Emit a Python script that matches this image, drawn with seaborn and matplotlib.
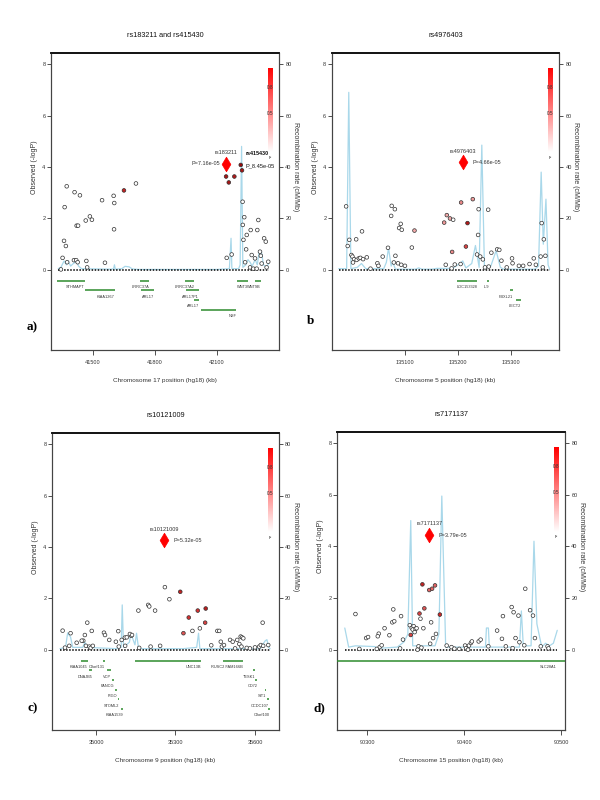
import numpy as np
import pandas as pd
import matplotlib
matplotlib.use("Agg")
import matplotlib.pyplot as plt
import seaborn as sns
from matplotlib.colors import LinearSegmentedColormap

# ================= DATA =================
# ---- Panel a ----
a_title = "rs183211 and rs415430"
a_xlabel = "Chromosome 17 position (hg18) (kb)"
a_xticks = [41500, 41800, 42100]
a_snp_pos = [41345, 41353, 41360, 41363, 41369, 41373, 41375, 41408, 41411, 41421, 41419, 41426,
             41428, 41437, 41465, 41468, 41472, 41485, 41495, 41544, 41558, 41600, 41603, 41602,
             41650, 41708, 42144, 42157, 42184, 42221, 42215, 42147, 42171, 42224, 42225, 42228,
             42232, 42236, 42244, 42241, 42263, 42268, 42284, 42295, 42300, 42308, 42328, 42336,
             42348, 42260, 42276, 42292, 42316, 42340, 42312]
a_snp_logp = [0.02, 0.47, 1.13, 2.44, 0.93, 3.25, 0.30, 0.38, 3.02, 1.72, 0.38, 0.30,
              1.72, 2.90, 1.92, 0.35, 0.10, 2.08, 1.95, 2.71, 0.28, 2.88, 2.60, 1.58,
              3.09, 3.36, 3.63, 3.40, 3.63, 3.87, 4.08, 0.47, 0.60, 2.65, 1.75, 1.17,
              2.05, 0.30, 1.36, 0.80, 1.55, 0.58, 0.45, 1.55, 1.94, 0.71, 1.23, 1.10,
              0.32, 0.10, 0.05, 0.05, 0.25, 0.10, 0.55]
a_snp_r2 = [0, 0, 0, 0, 0, 0, 0, 0, 0, 0, 0, 0,
            0, 0, 0, 0, 0, 0, 0, 0, 0, 0, 0, 0,
            0.75, 0, 0.9, 0.9, 0.85, 0.9, 1.0, 0, 0, 0, 0, 0,
            0, 0, 0, 0, 0, 0, 0, 0, 0, 0, 0, 0,
            0, 0, 0, 0, 0, 0, 0]
a_lead_pos = [42146]
a_lead_logp = [4.13]
a_lead_name = ["rs183211"]
a_lead_pval = ["P=7.16e-05"]
a_second_pos = [42215]
a_second_logp = [4.08]
a_second_name = ["rs415430"]
a_second_pval = ["P_8.45e-05"]
a_recomb_pos = [41332, 41345, 41360, 41372, 41380, 41392, 41405, 41421, 41430, 41445, 41590, 41600,
                41604, 41608, 41640, 41655, 41675, 41690, 41720, 42100, 42160, 42168, 42172, 42205,
                42212, 42219, 42225, 42240, 42250, 42260, 42270, 42285, 42295, 42305, 42315, 42325,
                42340, 42350]
a_recomb_rate = [0.5, 1, 3.5, 2, 3.5, 1.5, 2.5, 3.3, 1.5, 0.5, 0.3, 0.5,
                 2, 0.3, 0.5, 1.4, 1.2, 0.4, 0.2, 0.2, 0.5, 12.3, 0.5, 0.5,
                 2, 48, 1, 2, 4, 3, 1.5, 4, 2, 7.5, 7, 2,
                 1, 2.5]
a_gene_names = ["STHMAPT", "KIAA1267", "LRRC37A", "ARL17", "LRRC37A2", "ARL17P1", "ARL17", "NSF", "WNT3", "WNT9B"]
a_gene_start = [41326, 41461, 41727, 41732, 41945, 41950, 41989, 42023, 42197, 42284]
a_gene_end = [41461, 41606, 41771, 41795, 41989, 42013, 42013, 42192, 42250, 42313]
a_gene_row = [1, 2, 1, 2, 1, 2, 3, 4, 1, 1]

# ---- Panel b ----
b_title = "rs4976403"
b_xlabel = "Chromosome 5 position (hg18) (kb)"
b_xticks = [135100, 135200, 135300]
b_snp_pos = [134989, 134995, 134992, 134999, 135001, 135004, 135009, 135013, 135016, 135002, 135021, 135028,
             135008, 135019, 135035, 135048, 135050, 135058, 135068, 135075, 135081, 135074, 135092, 135089,
             135094, 135082, 135079, 135087, 135093, 135100, 135113, 135118, 135174, 135179, 135185, 135191,
             135189, 135206, 135218, 135215, 135228, 135239, 135257, 135238, 135236, 135242, 135247, 135263,
             135274, 135278, 135282, 135302, 135303, 135343, 135356, 135358, 135362, 135365, 135335, 135315,
             135323, 135292, 135194, 135205, 135177, 135188, 135251, 135258, 135347, 135360]
b_snp_logp = [2.47, 1.17, 0.93, 0.58, 0.52, 0.42, 0.39, 0.45, 0.47, 0.29, 0.42, 0.49,
              1.19, 1.50, 0.05, 0.26, 0.16, 0.52, 0.86, 2.49, 2.36, 2.10, 1.79, 1.63,
              1.56, 0.55, 0.29, 0.26, 0.20, 0.16, 0.87, 1.53, 1.84, 2.13, 2.00, 1.95,
              0.70, 2.62, 1.82, 0.91, 2.75, 2.36, 2.34, 1.36, 0.60, 0.52, 0.41, 0.67,
              0.80, 0.78, 0.36, 0.45, 0.26, 0.45, 0.52, 1.82, 1.19, 0.55, 0.23, 0.16,
              0.16, 0.10, 0.21, 0.23, 0.20, 0.06, 0.10, 0.13, 0.20, 0.10]
b_snp_r2 = [0, 0, 0, 0, 0, 0, 0, 0, 0, 0, 0, 0,
            0, 0, 0, 0, 0, 0, 0, 0, 0, 0, 0, 0,
            0, 0, 0, 0, 0, 0, 0, 0.3, 0.35, 0.3, 0.3, 0,
            0.4, 0.4, 0.85, 0.6, 0.35, 0, 0, 0, 0, 0, 0, 0,
            0, 0, 0, 0, 0, 0, 0, 0, 0, 0, 0, 0,
            0, 0, 0, 0, 0, 0, 0, 0, 0, 0]
b_lead_pos = [135210]
b_lead_logp = [4.18]
b_lead_name = ["rs4976403"]
b_lead_pval = ["P=4.66e-05"]
b_recomb_pos = [134975, 134990, 134994, 134998, 135010, 135018, 135026, 135060, 135065, 135069, 135074, 135077,
                135082, 135120, 135126, 135132, 135150, 135160, 135190, 135200, 135209, 135215, 135226, 135233,
                135240, 135245, 135250, 135262, 135272, 135280, 135286, 135345, 135352, 135357, 135361, 135366,
                135370, 135373]
b_recomb_rate = [0.5, 0.5, 69, 0.5, 1, 2.5, 0.5, 0.5, 3, 8.5, 1.5, 3,
                 0.3, 0.3, 0.8, 0.3, 0.3, 0.6, 0.6, 2, 3.5, 0.8, 2.5, 9.5,
                 1, 48.5, 0.5, 1.5, 7.5, 1, 0.3, 0.3, 1.5, 38, 10, 27.5,
                 2, 0.3]
b_gene_names = ["LOC153328", "IL9", "FBXL21", "LECT2"]
b_gene_start = [135198, 135255, 135298, 135309]
b_gene_end = [135236, 135259, 135304, 135319]
b_gene_row = [1, 1, 2, 3]

# ---- Panel c ----
c_title = "rs10121009"
c_xlabel = "Chromosome 9 position (hg18) (kb)"
c_xticks = [35000, 35300, 35600]
c_snp_pos = [34874, 34904, 34967, 34984, 34958, 34952, 34946, 34927, 34899, 34883, 34962, 34975,
             34980, 34988, 35030, 35034, 35050, 35084, 35075, 35097, 35109, 35116, 35133, 35128,
             35136, 35110, 35086, 35160, 35197, 35201, 35223, 35260, 35277, 35318, 35206, 35242,
             35163, 35330, 35350, 35364, 35384, 35414, 35412, 35392, 35435, 35458, 35465, 35471,
             35475, 35483, 35506, 35516, 35533, 35546, 35551, 35556, 35541, 35549, 35525, 35569,
             35581, 35600, 35616, 35622, 35631, 35650, 35629]
c_snp_logp = [0.75, 0.65, 1.06, 0.74, 0.58, 0.36, 0.36, 0.28, 0.16, 0.09, 0.16, 0.13,
              0.08, 0.16, 0.67, 0.58, 0.39, 0.73, 0.32, 0.39, 0.48, 0.49, 0.55, 0.62,
              0.58, 0.16, 0.13, 1.53, 1.75, 1.69, 1.53, 2.44, 1.97, 2.26, 0.13, 0.16,
              0.08, 0.65, 1.26, 0.74, 1.53, 1.61, 1.06, 0.84, 0.18, 0.74, 0.74, 0.32,
              0.13, 0.19, 0.39, 0.32, 0.39, 0.52, 0.49, 0.45, 0.23, 0.13, 0.06, 0.08,
              0.06, 0.10, 0.13, 0.19, 0.16, 0.19, 1.06]
c_snp_r2 = [0, 0, 0, 0, 0, 0, 0, 0, 0, 0, 0, 0,
            0, 0, 0, 0, 0, 0, 0, 0, 0, 0, 0, 0,
            0, 0, 0, 0, 0, 0, 0, 0, 0, 0.75, 0, 0,
            0, 0.55, 0.65, 0, 0.65, 0.8, 0.6, 0, 0, 0, 0, 0,
            0, 0, 0, 0, 0, 0, 0, 0, 0, 0, 0, 0,
            0, 0, 0, 0, 0, 0, 0]
c_lead_pos = [35258]
c_lead_logp = [4.26]
c_lead_name = ["rs10121009"]
c_lead_pval = ["P=5.32e-05"]
c_recomb_pos = [34864, 34885, 34893, 34904, 34912, 34950, 34958, 34967, 35075, 35095, 35099, 35104,
                35126, 35132, 35140, 35147, 35153, 35160, 35170, 35330, 35380, 35387, 35392, 35620,
                35638, 35645, 35652, 35657]
c_recomb_rate = [0.5, 1, 6.6, 5, 1, 1, 3, 1, 0.5, 1, 17.5, 1,
                 3, 6.5, 4, 2, 6.5, 1, 0.5, 0.5, 1, 6.5, 0.5, 0.5,
                 3.5, 4, 1, 0.5]
c_gene_names = ["KIAA1045", "DNAJB5", "C9orf131", "VCP", "FANCG", "PIGO", "STOML2", "KIAA1539",
                "UNC13B", "RUSC2 FAM166B", "TESK1", "CD72", "SIT1", "CCDC107", "C9orf100"]
c_gene_start = [34943, 34975, 35028, 35040, 35060, 35073, 35084, 35093, 35147, 35478, 35594, 35600, 35638, 35644, 35650]
c_gene_end = [34969, 34985, 35035, 35058, 35068, 35080, 35088, 35103, 35396, 35554, 35600, 35609, 35642, 35652, 35657]
c_gene_row = [1, 2, 1, 2, 3, 4, 5, 6, 1, 1, 2, 3, 4, 5, 6]

# ---- Panel d ----
d_title = "rs7171137"
d_xlabel = "Chromosome 15 position (hg18) (kb)"
d_xticks = [90300, 90400, 90500]
d_snp_pos = [90288, 90299, 90301, 90292, 90312, 90311, 90318, 90323, 90313, 90315, 90310, 90327,
             90326, 90328, 90335, 90344, 90346, 90348, 90347, 90350, 90351, 90349, 90345, 90337,
             90334, 90353, 90356, 90352, 90354, 90355, 90357, 90359, 90358, 90364, 90367, 90370,
             90366, 90371, 90368, 90365, 90375, 90382, 90387, 90390, 90395, 90401, 90402, 90405,
             90407, 90408, 90404, 90415, 90417, 90425, 90434, 90440, 90439, 90443, 90450, 90449,
             90451, 90456, 90453, 90457, 90462, 90463, 90468, 90471, 90473, 90479, 90486, 90487]
d_snp_logp = [1.38, 0.45, 0.49, 0.03, 0.62, 0.52, 0.83, 0.56, 0.10, 0.17, 0.03, 1.56,
              1.06, 1.10, 1.30, 0.95, 0.84, 0.91, 0.78, 0.81, 0.83, 0.68, 0.57, 0.39,
              0.05, 0.13, 0.08, 0.00, 1.40, 1.20, 2.53, 1.60, 0.83, 2.31, 2.36, 2.49,
              1.06, 0.61, 0.45, 0.23, 1.36, 0.16, 0.10, 0.04, 0.03, 0.16, 0.06, 0.16,
              0.26, 0.32, 0.00, 0.32, 0.39, 0.13, 0.74, 1.30, 0.42, 0.13, 0.06, 1.65,
              1.45, 1.32, 0.45, 0.29, 0.17, 2.36, 1.53, 1.32, 0.45, 0.13, 0.13, 0.05]
d_snp_r2 = [0, 0, 0, 0, 0, 0, 0, 0, 0, 0, 0, 0,
            0, 0, 0, 0, 0, 0, 0, 0, 0, 0, 0.6, 0,
            0, 0, 0, 0, 0.6, 0, 0.75, 0.55, 0, 0.5, 0.5, 0.5,
            0, 0, 0, 0, 0.7, 0, 0, 0, 0, 0, 0, 0,
            0, 0, 0, 0, 0, 0, 0, 0, 0, 0, 0, 0,
            0, 0, 0, 0, 0, 0, 0, 0, 0, 0, 0, 0]
d_lead_pos = [90364]
d_lead_logp = [4.44]
d_lead_name = ["rs7171137"]
d_lead_pval = ["P=3.79e-05"]
d_recomb_pos = [90277, 90281, 90288, 90308, 90311, 90331, 90338, 90342, 90345, 90347, 90370, 90374,
                90377, 90381, 90422, 90423, 90425, 90426, 90457, 90459, 90461, 90469, 90472, 90475,
                90480, 90484, 90488, 90492, 90496]
d_recomb_rate = [8.4, 1, 1.5, 1.2, 0.5, 1, 3, 6, 50, 1.5, 1.5, 6,
                 59.5, 1, 1, 8.4, 8.4, 1, 1, 15, 1.5, 1.5, 42, 10,
                 1, 2.5, 1.5, 2.5, 7.5]
d_gene_names = ["SLC28A1"]
d_gene_start = [90200]
d_gene_end = [90650]
d_gene_row = [1]

# ================= STYLE =================
sns.set_style("white")
plt.rcParams['font.family'] = ['Liberation Sans Narrow', 'Liberation Sans', 'DejaVu Sans']
plt.rcParams['axes.unicode_minus'] = False

LD_CMAP = LinearSegmentedColormap.from_list("ld", ["#ffffff", "#f2a0a0", "#d42a2a", "#960c0c"])
BAR_CMAP = LinearSegmentedColormap.from_list("bar", ["#ffffff", "#ff0000"])
RECOMB_COLOR = "#a9d8ea"
GENE_COLOR = "#2e8b2e"
TXT = "#333333"

fig = plt.figure(figsize=(6, 8), dpi=100)
fig.patch.set_facecolor("white")


def draw_panel(rect, xlim, title, xlabel, xticks, snp_pos, snp_logp, snp_r2,
               lead_pos, lead_logp, lead_name, lead_pval, pval_left,
               recomb_pos, recomb_rate, gene_names, gene_start, gene_end, gene_row,
               letter, letter_xy, second=None):
    ax = fig.add_axes(rect)
    ax2 = ax.twinx()
    ylim = (-3.11, 8.43)
    ax.set_zorder(ax2.get_zorder() + 1)
    ax.patch.set_visible(False)

    # recombination rate
    rec = pd.DataFrame({"pos": recomb_pos, "rate": recomb_rate})
    sns.lineplot(data=rec, x="pos", y="rate", ax=ax2, color=RECOMB_COLOR, lw=0.9,
                 estimator=None, sort=True)
    ax2.set_ylim(ylim[0] * 10, ylim[1] * 10)

    # zero dotted baseline across the data span
    lo = min(min(snp_pos), min(recomb_pos))
    hi = max(max(snp_pos), max(recomb_pos))
    ax.hlines(0, lo, hi, colors="black", linestyles=(0, (1, 1)), lw=1.1, zorder=2)

    # SNPs
    snp = pd.DataFrame({"pos": snp_pos, "logp": snp_logp, "r2": snp_r2})
    sns.scatterplot(data=snp, x="pos", y="logp", hue="r2", palette=LD_CMAP, hue_norm=(0, 1),
                    ax=ax, s=7, edgecolor="#303030", linewidth=0.5, legend=False, zorder=4)
    # lead SNP
    lead = pd.DataFrame({"pos": lead_pos, "logp": lead_logp})
    sns.scatterplot(data=lead, x="pos", y="logp", ax=ax, marker="d", s=55, color="#ff0000",
                    edgecolor="#ff0000", linewidth=0.5, legend=False, zorder=5)
    for x, y, nm, pv in zip(lead_pos, lead_logp, lead_name, lead_pval):
        ax.annotate(nm, (x, y), xytext=(0, 8), textcoords="offset points", ha="center",
                    va="center", fontsize=4, color=TXT)
        if pval_left:
            ax.annotate(pv, (x, y), xytext=(-4.5, 0), textcoords="offset points", ha="right",
                        va="center", fontsize=4, color=TXT)
        else:
            ax.annotate(pv, (x, y), xytext=(6.5, 0), textcoords="offset points", ha="left",
                        va="center", fontsize=4, color=TXT)
    if second is not None:
        for x, y, nm, pv in zip(*second):
            ax.annotate(nm, (x, y), xytext=(3.2, 8), textcoords="offset points", ha="left",
                        va="center", fontsize=3.9, color="#111111", fontweight="bold")
            ax.annotate(pv, (x, y), xytext=(3.2, -1), textcoords="offset points", ha="left",
                        va="center", fontsize=4.1, color="#111111")

    # genes
    for nm, s, e, r in zip(gene_names, gene_start, gene_end, gene_row):
        y = -0.42 - 0.375 * (r - 1)
        vs, ve = max(s, xlim[0]), min(e, xlim[1])
        ax.hlines(y, vs, ve, colors=GENE_COLOR, lw=1.1, zorder=3)
        dx = -6 if e > xlim[1] else 0
        ax.annotate(nm, (ve, y), xytext=(dx, -4.5), textcoords="offset points", ha="right",
                    va="center", fontsize=2.8, color=TXT)

    # colour legend bar
    cax = ax.inset_axes([0.951, 0.665, 0.02, 0.285])
    cax.imshow(np.linspace(1, 0, 200)[:, None], aspect="auto", cmap=BAR_CMAP,
               extent=[0, 1, 0, 1])
    cax.set_axis_off()
    for val, yy in (("0.8", 0.77), ("0.5", 0.46), ("r\u00b2", -0.06)):
        cax.text(0.5, yy, val, transform=cax.transAxes, ha="center", va="center",
                 fontsize=3.4, color=TXT)

    # axes formatting
    ax.set_xlim(*xlim)
    ax.set_ylim(*ylim)
    ax.set_xticks(xticks)
    ax.set_xticklabels([str(t) for t in xticks])
    ax.set_yticks([0, 2, 4, 6, 8])
    ax2.set_yticks([0, 20, 40, 60, 80])
    ax.tick_params(axis="x", bottom=True, length=3.5, width=0.6, pad=3.5, labelsize=4,
                   colors=TXT)
    ax.tick_params(axis="y", left=True, length=3, width=0.6, pad=1, labelsize=4, colors=TXT)
    ax2.tick_params(axis="y", right=True, length=3, width=0.6, pad=1.5, labelsize=4,
                    colors=TXT)
    ax.set_xlabel(xlabel, fontsize=4.6, color=TXT)
    ax.xaxis.set_label_coords(0.5, -0.094)
    ax.set_ylabel("Observed (-logP)", fontsize=5, color=TXT)
    ax.yaxis.set_label_coords(-0.057, 0.616)
    ax2.set_ylabel("Recombination rate (cM/Mb)", fontsize=5, color=TXT, rotation=270,
                   va="center")
    ax2.yaxis.set_label_coords(1.072, 0.616)
    ax.set_title(title, fontsize=5.2, color="#111111", y=1.025)
    for a_ in (ax, ax2):
        for sp in a_.spines.values():
            sp.set_color("#444444")
            sp.set_linewidth(0.8)
        a_.spines["top"].set_color("#111111")
        a_.spines["top"].set_linewidth(1.2)
    ax2.grid(False)
    ax.grid(False)

    fig.text(letter_xy[0], letter_xy[1], letter, fontsize=9.5, fontweight="bold",
             family=["Liberation Serif", "DejaVu Serif"], ha="center", va="center",
             color="#000000")
    return ax


draw_panel([0.085, 0.5625, 0.38, 0.3713], (41297, 42400), a_title, a_xlabel, a_xticks,
           a_snp_pos, a_snp_logp, a_snp_r2, a_lead_pos, a_lead_logp, a_lead_name, a_lead_pval,
           True, a_recomb_pos, a_recomb_rate, a_gene_names, a_gene_start, a_gene_end, a_gene_row,
           "a)", (0.053, 0.591),
           second=(a_second_pos, a_second_logp, a_second_name, a_second_pval))
draw_panel([0.553, 0.5625, 0.379, 0.3713], (134962, 135391), b_title, b_xlabel, b_xticks,
           b_snp_pos, b_snp_logp, b_snp_r2, b_lead_pos, b_lead_logp, b_lead_name, b_lead_pval,
           False, b_recomb_pos, b_recomb_rate, b_gene_names, b_gene_start, b_gene_end, b_gene_row,
           "b", (0.518, 0.599))
draw_panel([0.0867, 0.0875, 0.378, 0.3713], (34834, 35690), c_title, c_xlabel, c_xticks,
           c_snp_pos, c_snp_logp, c_snp_r2, c_lead_pos, c_lead_logp, c_lead_name, c_lead_pval,
           False, c_recomb_pos, c_recomb_rate, c_gene_names, c_gene_start, c_gene_end, c_gene_row,
           "c)", (0.055, 0.115))
draw_panel([0.5617, 0.0875, 0.38, 0.3725], (90269, 90504), d_title, d_xlabel, d_xticks,
           d_snp_pos, d_snp_logp, d_snp_r2, d_lead_pos, d_lead_logp, d_lead_name, d_lead_pval,
           False, d_recomb_pos, d_recomb_rate, d_gene_names, d_gene_start, d_gene_end, d_gene_row,
           "d)", (0.532, 0.115))

fig.savefig("out.png", dpi=100, facecolor="white")
